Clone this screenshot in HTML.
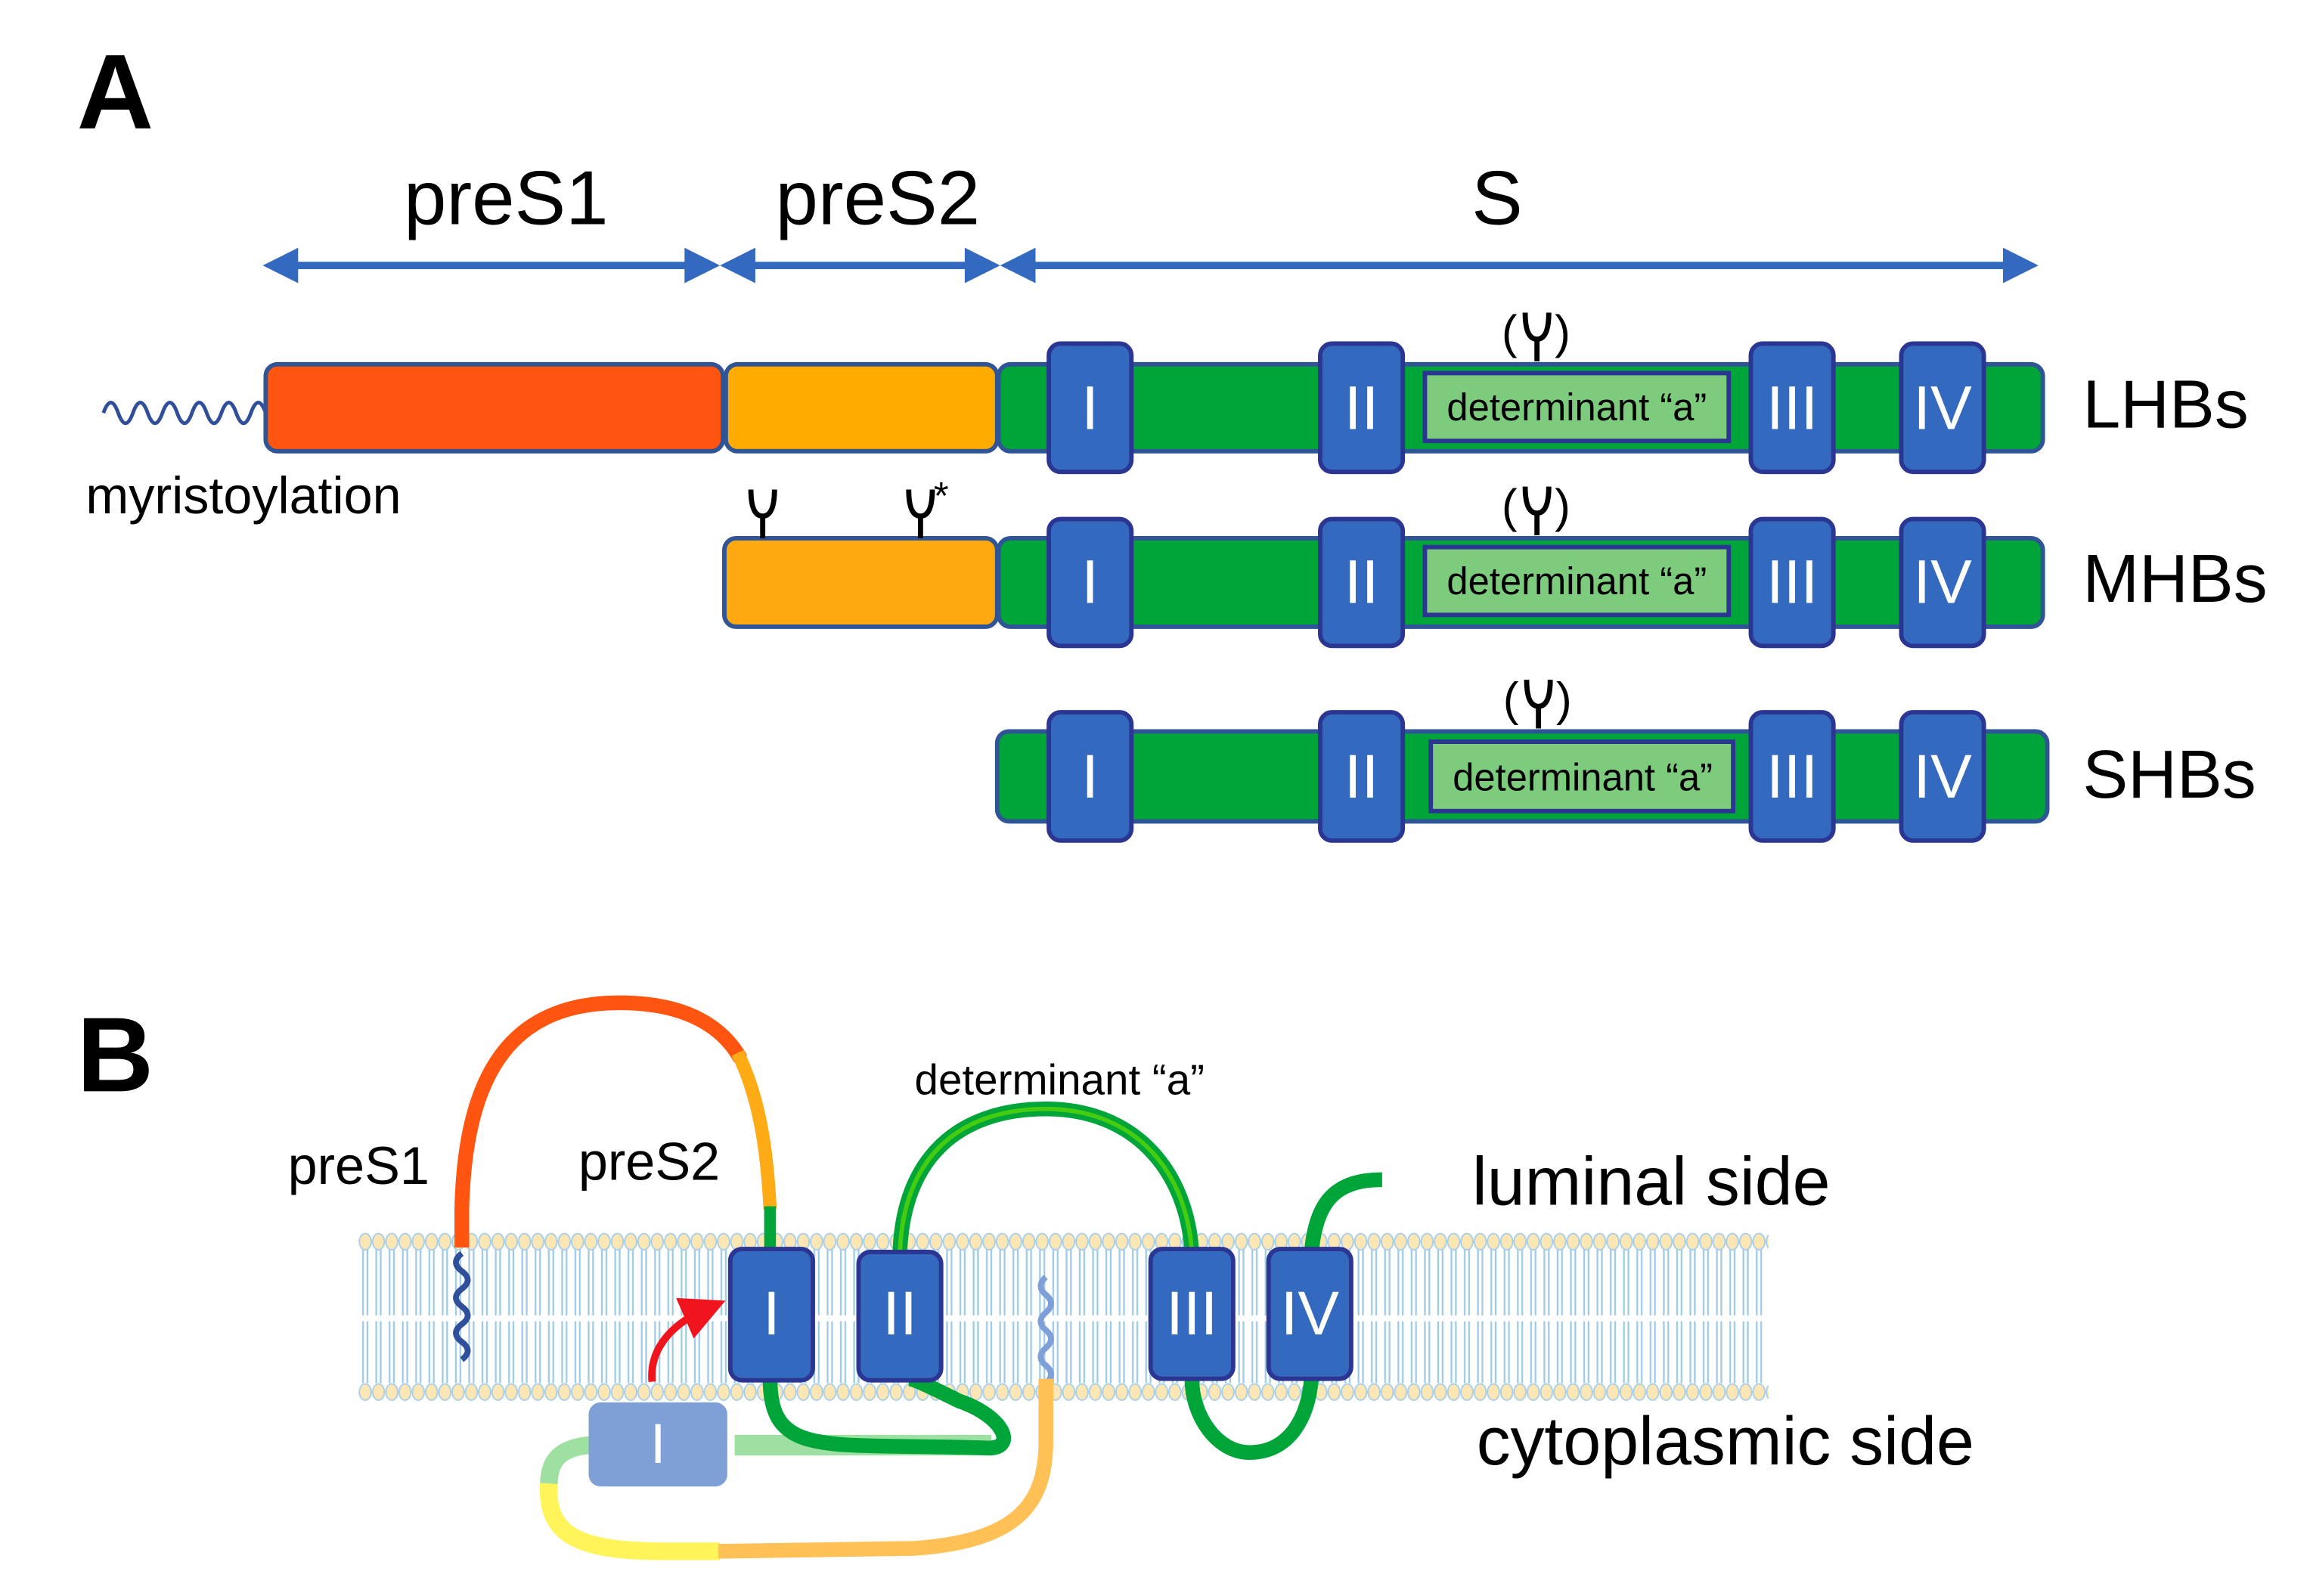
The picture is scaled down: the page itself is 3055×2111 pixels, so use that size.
<!DOCTYPE html>
<html><head><meta charset="utf-8"><style>
html,body{margin:0;padding:0;background:#fff;}
svg{display:block;}
text{font-family:"Liberation Sans",Arial,sans-serif;}
</style></head><body>
<svg width="3055" height="2111" viewBox="0 0 1566 1082.3" xmlns="http://www.w3.org/2000/svg">
<defs>
<pattern id="lipT" x="243" y="836" width="9" height="58" patternUnits="userSpaceOnUse">
<line x1="3" y1="10" x2="3" y2="56" stroke="#9fcbe6" stroke-width="1.2"/>
<line x1="6" y1="10" x2="6" y2="56" stroke="#9fcbe6" stroke-width="1.2"/>
<ellipse cx="4.5" cy="6" rx="4" ry="5.5" fill="#fce7b4" stroke="#a9cfe8" stroke-width="1"/>
</pattern>
<pattern id="lipB" x="243" y="894" width="9" height="58" patternUnits="userSpaceOnUse">
<line x1="3" y1="2" x2="3" y2="44" stroke="#9fcbe6" stroke-width="1.2"/>
<line x1="6" y1="2" x2="6" y2="44" stroke="#9fcbe6" stroke-width="1.2"/>
<ellipse cx="4.5" cy="50" rx="4" ry="5.5" fill="#fce7b4" stroke="#a9cfe8" stroke-width="1"/>
</pattern>
<marker id="ah" markerWidth="6" markerHeight="6" refX="3" refY="3" orient="auto" markerUnits="strokeWidth"><path d="M0,0 L6,3 L0,6 z" fill="#f0141e"/></marker>
</defs>

<!-- Panel A -->
<text x="52" y="87" font-size="72" font-weight="bold">A</text>
<text x="343" y="152" font-size="52" text-anchor="middle">preS1</text>
<text x="595" y="152" font-size="52" text-anchor="middle">preS2</text>
<text x="1015" y="152" font-size="52" text-anchor="middle">S</text>
<g stroke="#3469c0" stroke-width="5" fill="#3469c0">
<line x1="185" y1="180" x2="482" y2="180"/>
<line x1="495" y1="180" x2="672" y2="180"/>
<line x1="685" y1="180" x2="1375" y2="180"/>
</g>
<g fill="#3469c0">
<path d="M178,180 L202,168 L202,192 z"/><path d="M488,180 L464,168 L464,192 z"/>
<path d="M488,180 L512,168 L512,192 z"/><path d="M678,180 L654,168 L654,192 z"/>
<path d="M678,180 L702,168 L702,192 z"/><path d="M1382,180 L1358,168 L1358,192 z"/>
</g>

<!-- LHBs -->
<path d="M70,280 q5,-14 10,0 t10,0 t10,0 t10,0 t10,0 t10,0 t10,0 t10,0 t10,0 t10,0 t10,0" fill="none" stroke="#2f4f9a" stroke-width="2.5"/>
<text x="58" y="348" font-size="35">myristoylation</text>
<g stroke="#2f5596" stroke-width="3">
<rect x="180" y="247" width="310" height="59" rx="8" fill="#ff5511"/>
<rect x="492" y="247" width="184" height="59" rx="8" fill="#ffab00"/>
<rect x="677" y="247" width="708" height="59" rx="8" fill="#00a53a"/>
<rect x="491" y="365" width="185" height="60" rx="8" fill="#ffa910"/>
<rect x="677" y="365" width="708" height="60" rx="8" fill="#00a53a"/>
<rect x="676" y="496" width="712" height="61" rx="8" fill="#00a53a"/>
</g>
<g stroke="#2b3592" stroke-width="3" fill="#3469c0">
<rect x="711" y="233" width="56" height="87" rx="8"/><rect x="895" y="233" width="56" height="87" rx="8"/>
<rect x="1187" y="233" width="56" height="87" rx="8"/><rect x="1289" y="233" width="56" height="87" rx="8"/>
<rect x="711" y="352" width="56" height="86" rx="8"/><rect x="895" y="352" width="56" height="86" rx="8"/>
<rect x="1187" y="352" width="56" height="86" rx="8"/><rect x="1289" y="352" width="56" height="86" rx="8"/>
<rect x="711" y="483" width="56" height="87" rx="8"/><rect x="895" y="483" width="56" height="87" rx="8"/>
<rect x="1187" y="483" width="56" height="87" rx="8"/><rect x="1289" y="483" width="56" height="87" rx="8"/>
</g>
<g stroke="#2b3592" stroke-width="3" fill="#7dcc7d">
<rect x="966" y="253" width="206" height="46"/>
<rect x="966" y="371" width="206" height="46"/>
<rect x="970" y="503" width="205" height="47"/>
</g>
<g font-size="26" text-anchor="middle">
<text x="1069" y="285">determinant “a”</text>
<text x="1069" y="403">determinant “a”</text>
<text x="1073" y="536">determinant “a”</text>
</g>
<g font-size="42" fill="#fff" text-anchor="middle">
<text x="739" y="291">I</text><text x="923" y="291">II</text><text x="1215" y="291">III</text><text x="1317" y="291">IV</text>
<text x="739" y="409">I</text><text x="923" y="409">II</text><text x="1215" y="409">III</text><text x="1317" y="409">IV</text>
<text x="739" y="541">I</text><text x="923" y="541">II</text><text x="1215" y="541">III</text><text x="1317" y="541">IV</text>
</g>
<g font-size="46">
<text x="1412" y="290">LHBs</text><text x="1412" y="408">MHBs</text><text x="1412" y="541">SHBs</text>
</g>
<!-- glycans -->
<g stroke="#000" stroke-width="3.5" fill="none">
<path d="M1042,245 V230 M1034,212 Q1034,230 1042,230 Q1050,230 1050,212"/>
<path d="M1042,363 V348 M1034,330 Q1034,348 1042,348 Q1050,348 1050,330"/>
<path d="M1043,494 V479 M1035,461 Q1035,479 1043,479 Q1051,479 1051,461"/>
<path d="M517,365 V350 M509,332 Q509,350 517,350 Q525,350 525,332"/>
<path d="M624,365 V350 M616,332 Q616,350 624,350 Q632,350 632,332"/>
</g>
<g font-size="32">
<text x="1018" y="236">(</text><text x="1054" y="236">)</text>
<text x="1018" y="354">(</text><text x="1054" y="354">)</text>
<text x="1019" y="485">(</text><text x="1055" y="485">)</text>
</g>
<text x="633" y="345" font-size="26">*</text>

<!-- Panel B -->
<text x="52" y="740" font-size="72" font-weight="bold">B</text>
<rect x="243" y="836" width="956" height="58" fill="url(#lipT)"/>
<rect x="243" y="894" width="956" height="58" fill="url(#lipB)"/>

<!-- preS loop -->
<path d="M313,846 L313,820 C315,730 345,680 420,680 C470,680 492,700 502,718" fill="none" stroke="#ff5511" stroke-width="10"/>
<path d="M500,714 C515,745 520,780 522,820" fill="none" stroke="#ffab15" stroke-width="9"/>
<path d="M522,818 L522,850" fill="none" stroke="#00a53a" stroke-width="8"/>
<path d="M313,850 q-8,6 0,12 t0,12 t0,12 t0,12 t0,12 t0,12 " fill="none" stroke="#2f4f9a" stroke-width="4"/>
<path d="M709,866 q-7,6 0,12 t0,12 t0,12 t0,12 t0,12 t0,12" fill="none" stroke="#7f9fd8" stroke-width="4"/>
<!-- determinant arc -->
<path d="M610,850 C612,785 650,752 709,752 C770,752 805,795 808,850" fill="none" stroke="#00a53a" stroke-width="10"/>
<path d="M610,850 C612,785 650,752 709,752 C770,752 805,795 808,850" fill="none" stroke="#44cc10" stroke-width="3"/>
<path d="M889,850 C892,815 905,800 937,800" fill="none" stroke="#00a53a" stroke-width="10"/>
<!-- bottom loops -->
<path d="M498,980 L672,980" stroke="#9ee0a2" stroke-width="14"/>
<path d="M522,935 C522,990 560,978 670,982 C690,982 680,960 650,950 C620,935 618,935 616,935" fill="none" stroke="#00a53a" stroke-width="10"/>
<path d="M808,935 C808,960 825,985 847,985 C875,985 887,960 889,935" fill="none" stroke="#00a53a" stroke-width="10"/>
<path d="M400,980 C375,982 372,995 372,1008" fill="none" stroke="#9ee0a2" stroke-width="12"/>
<path d="M372,1006 C370,1040 390,1052 450,1052 L488,1052" fill="none" stroke="#fff55a" stroke-width="12"/>
<path d="M487,1052 L620,1050 C690,1045 708,1020 709,980 L709,935" fill="none" stroke="#ffc155" stroke-width="10"/>
<rect x="399" y="951" width="94" height="57" rx="8" fill="#7fa0d6"/>
<text x="446" y="992" font-size="38" fill="#fff" text-anchor="middle">I</text>
<!-- TM blocks -->
<g stroke="#2b3592" stroke-width="3" fill="#3469c0">
<rect x="495" y="847" width="56" height="89" rx="8"/><rect x="582" y="849" width="56" height="87" rx="8"/>
<rect x="780" y="847" width="56" height="88" rx="8"/><rect x="860" y="847" width="56" height="88" rx="8"/>
</g>
<g font-size="42" fill="#fff" text-anchor="middle">
<text x="523" y="905">I</text><text x="610" y="905">II</text><text x="808" y="905">III</text><text x="888" y="905">IV</text>
</g>
<path d="M442,937 C440,915 455,898 478,888" fill="none" stroke="#f0141e" stroke-width="5" marker-end="url(#ah)"/>
<text x="195" y="803" font-size="36">preS1</text>
<text x="392" y="800" font-size="36">preS2</text>
<text x="620" y="742" font-size="29">determinant “a”</text>
<text x="998" y="817" font-size="46">luminal side</text>
<text x="1001" y="993" font-size="46">cytoplasmic side</text>
</svg>
</body></html>
